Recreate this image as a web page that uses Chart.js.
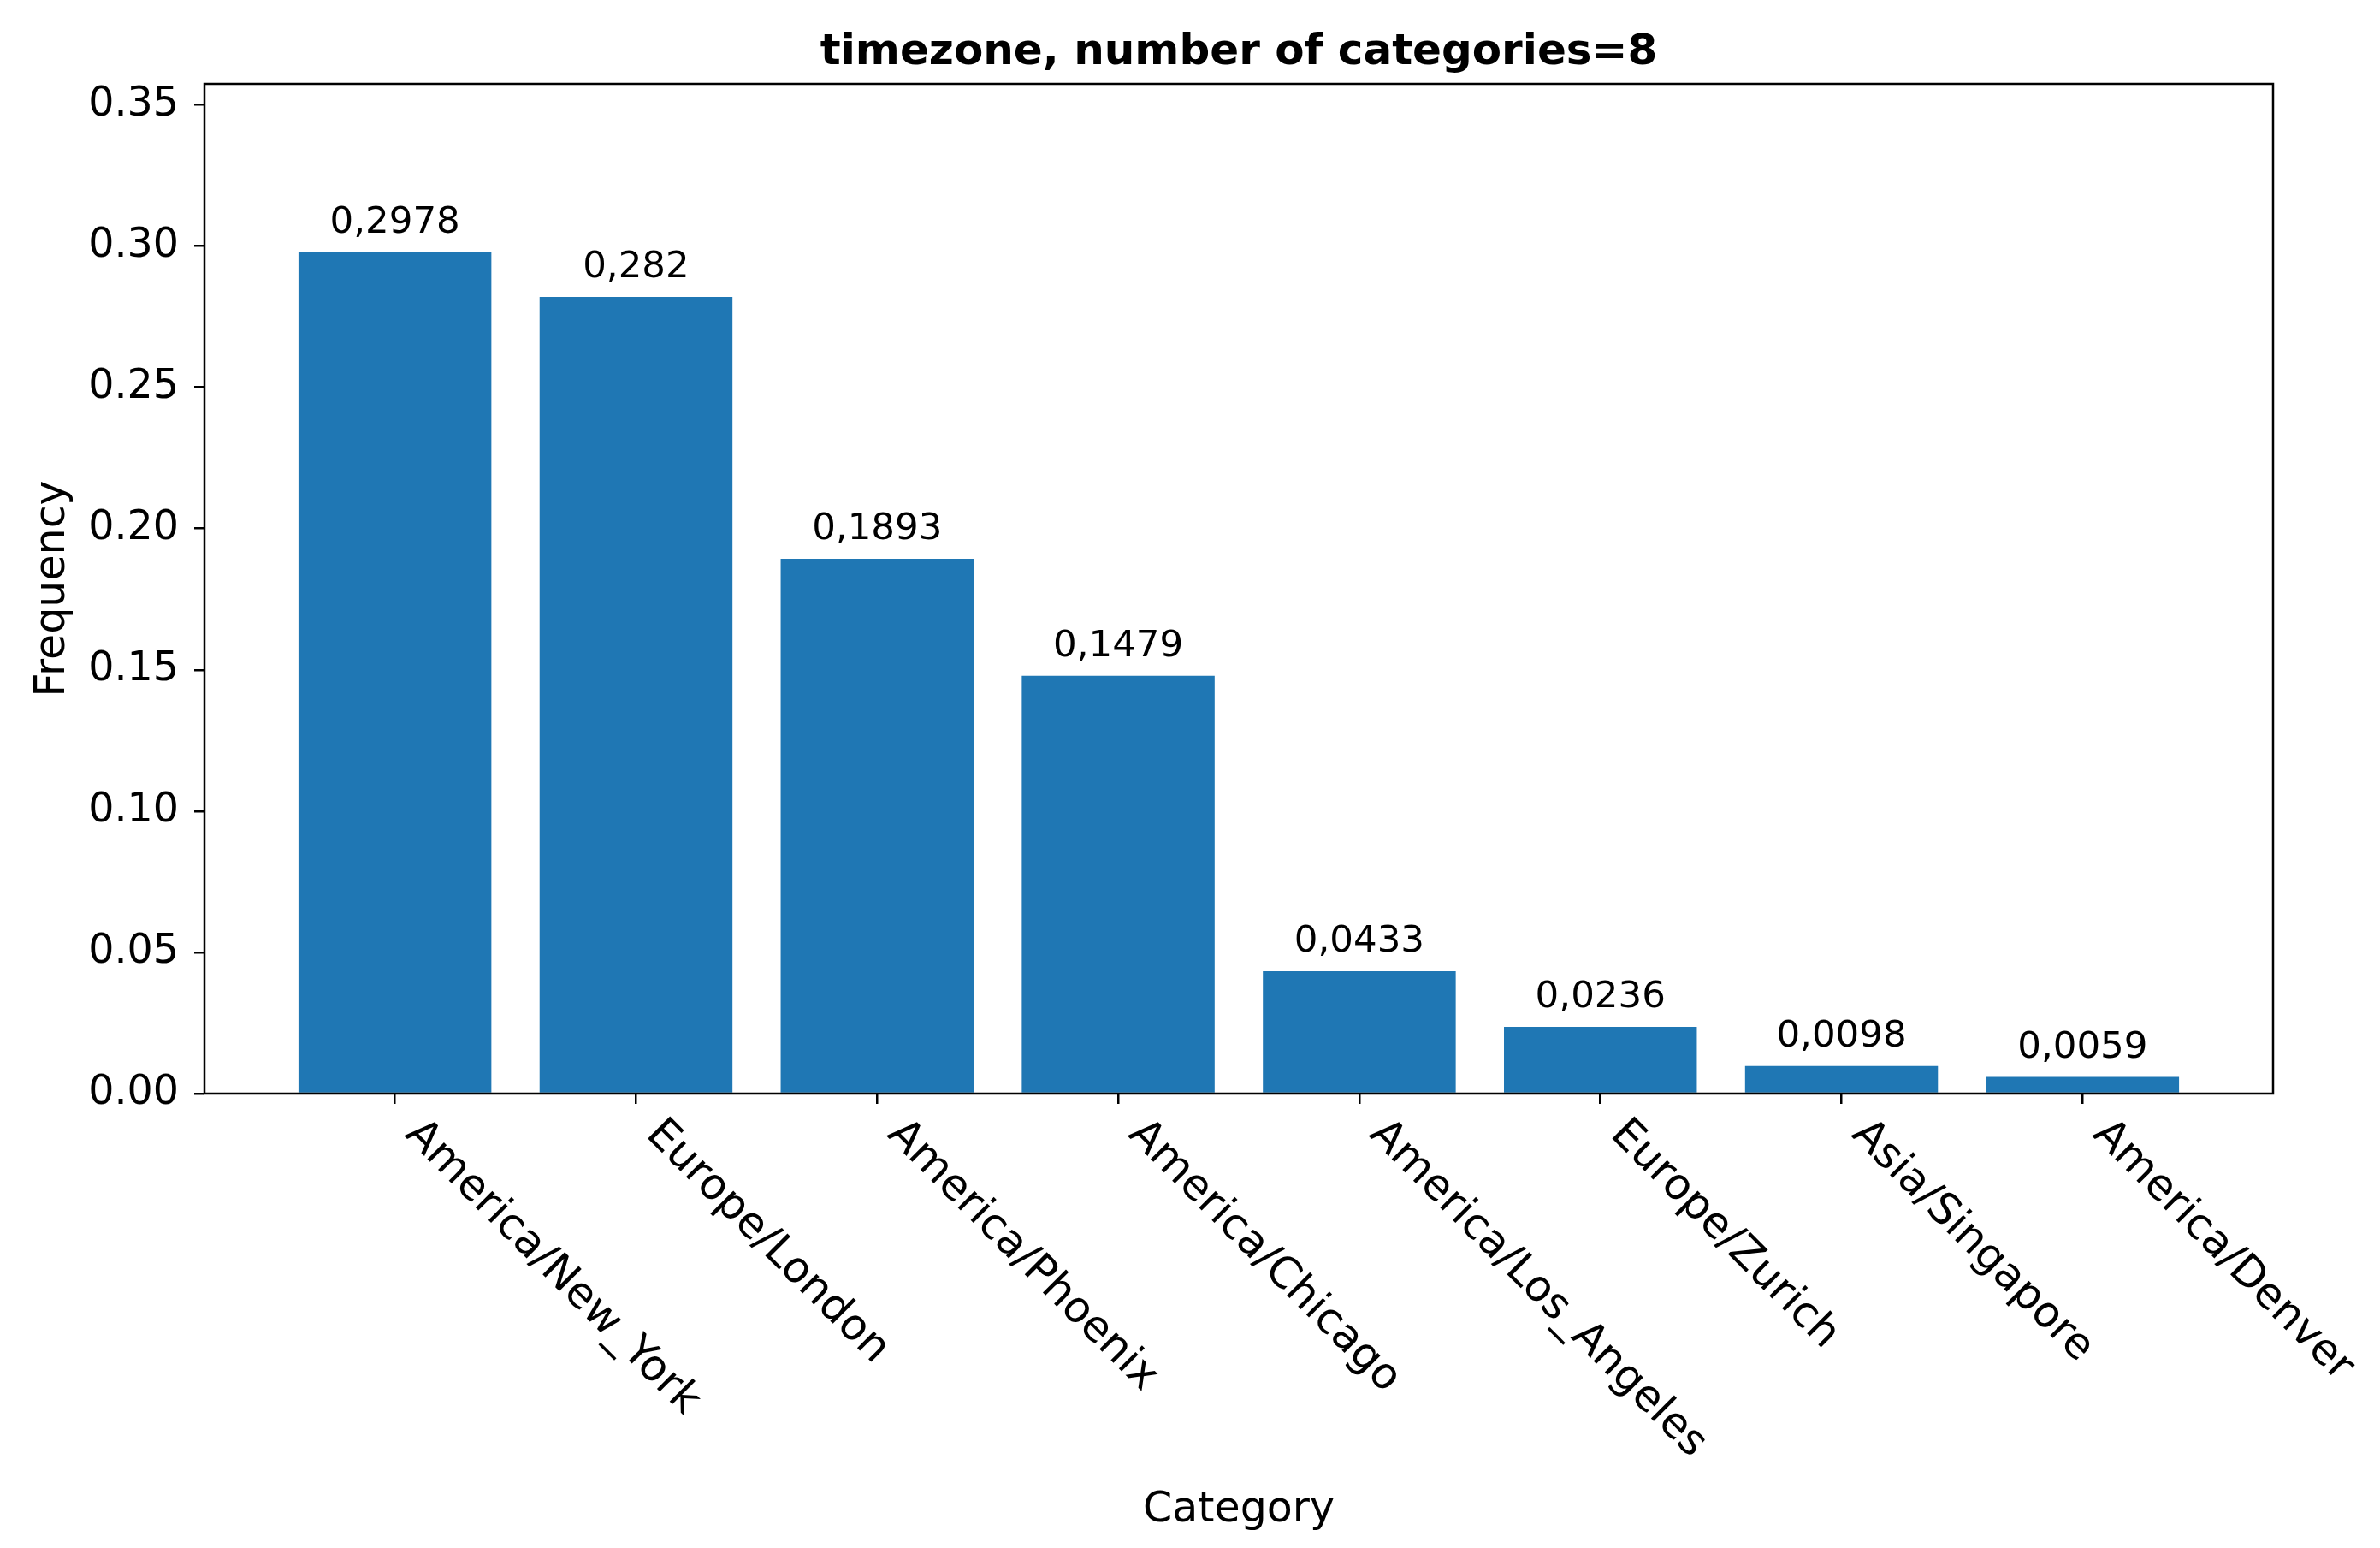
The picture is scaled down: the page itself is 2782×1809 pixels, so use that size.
<!DOCTYPE html>
<html>
<head>
<meta charset="utf-8">
<title>timezone</title>
<script src="https://cdn.jsdelivr.net/npm/chart.js@4.4.1/dist/chart.umd.min.js"></script>
<style>
  html, body { margin: 0; padding: 0; background: #fff; }
  canvas { display: block; }
</style>
</head>
<body>
<canvas id="barChart" width="2782" height="1809"></canvas>
<script>
// data
var categories = ["America/New_York", "Europe/London", "America/Phoenix", "America/Chicago",
                  "America/Los_Angeles", "Europe/Zurich", "Asia/Singapore", "America/Denver"];
var frequencies = [0.2978, 0.282, 0.1893, 0.1479, 0.0433, 0.0236, 0.0098, 0.0059];
var valueLabels = ["0,2978", "0,282", "0,1893", "0,1479", "0,0433", "0,0236", "0,0098", "0,0059"];
var yTicks = [0, 0.05, 0.10, 0.15, 0.20, 0.25, 0.30, 0.35];
var yMax = 0.3574;

var FONT = '"DejaVu Sans", "Liberation Sans", sans-serif';

// value labels, frame and the slanted category labels
var extras = {
    id: 'extras',
    afterDatasetsDraw: function (chart) {
        var ctx = chart.ctx;
        var a = chart.chartArea;
        var meta = chart.getDatasetMeta(0);
        ctx.save();
        ctx.fillStyle = '#000';

        ctx.font = '43.5px ' + FONT;
        ctx.textAlign = 'center';
        ctx.textBaseline = 'alphabetic';
        meta.data.forEach(function (bar, i) {
            ctx.fillText(valueLabels[i], bar.x, bar.y - 23);
        });

        ctx.strokeStyle = '#000';
        ctx.lineWidth = 2.5;
        ctx.strokeRect(a.left, a.top, a.right - a.left, a.bottom - a.top);

        var xs = chart.scales.x;
        var size = 50.3;
        var h = size * 1.164;
        ctx.font = size + 'px ' + FONT;
        ctx.textAlign = 'left';
        ctx.textBaseline = 'top';
        categories.forEach(function (c, i) {
            var px = xs.getPixelForValue(i);
            ctx.save();
            ctx.translate(px + h / Math.SQRT2 - 4, a.bottom + 22);
            ctx.rotate(Math.PI / 4);
            ctx.fillText(c, 0, 0);
            ctx.restore();
        });
        ctx.restore();
    }
};

var ctx = document.getElementById('barChart').getContext('2d');
var chart = new Chart(ctx, {
    type: 'bar',
    data: {
        datasets: [{
            label: 'Frequency',
            data: frequencies.map(function (v, i) { return { x: i, y: v }; }),
            backgroundColor: '#1f77b4',
            borderWidth: 0,
            barPercentage: 1.0,
            categoryPercentage: 0.8
        }]
    },
    options: {
        responsive: false,
        animation: false,
        devicePixelRatio: 1,
        layout: { padding: { left: 0, right: 125, top: 0, bottom: 0 } },
        plugins: {
            legend: { display: false },
            tooltip: { enabled: false }
        },
        scales: {
            x: {
                type: 'linear',
                offset: false,
                min: -0.79,
                max: 7.79,
                afterBuildTicks: function (scale) {
                    scale.ticks = categories.map(function (c, i) { return { value: i }; });
                },
                afterFit: function (scale) { scale.height = 531; },
                ticks: { display: false, autoSkip: false },
                grid: { offset: false, drawOnChartArea: false, drawTicks: true, tickLength: 12, tickColor: '#000', tickWidth: 2.5, lineWidth: 2.5 },
                border: { display: false },
                title: {
                    display: true,
                    text: 'Category',
                    color: '#000',
                    font: { family: FONT, size: 49 },
                    padding: { top: 0, bottom: 14 }
                }
            },
            // top axis only carries the chart title, so it is centred over the plot
            top: {
                type: 'linear',
                position: 'top',
                afterFit: function (scale) { scale.height = 98; },
                ticks: { display: false },
                grid: { display: false },
                border: { display: false },
                title: {
                    display: true,
                    text: 'timezone, number of categories=8',
                    color: '#000',
                    font: { family: FONT, size: 50, weight: 'bold' },
                    padding: { top: 32, bottom: 0 }
                }
            },
            y: {
                min: 0,
                max: yMax,
                afterBuildTicks: function (scale) {
                    scale.ticks = yTicks.map(function (v) { return { value: v }; });
                },
                afterFit: function (scale) { scale.width = 239; },
                ticks: {
                    color: '#000',
                    font: { family: FONT, size: 47.5 },
                    padding: 18,
                    callback: function (v) { return v.toFixed(2); }
                },
                grid: { drawOnChartArea: false, drawTicks: true, tickLength: 12, tickColor: '#000', tickWidth: 2.5, lineWidth: 2.5 },
                border: { display: false },
                title: {
                    display: true,
                    text: 'Frequency',
                    color: '#000',
                    font: { family: FONT, size: 49 },
                    padding: { top: 33, bottom: 0 }
                }
            }
        }
    },
    plugins: [extras]
});
</script>
</body>
</html>
